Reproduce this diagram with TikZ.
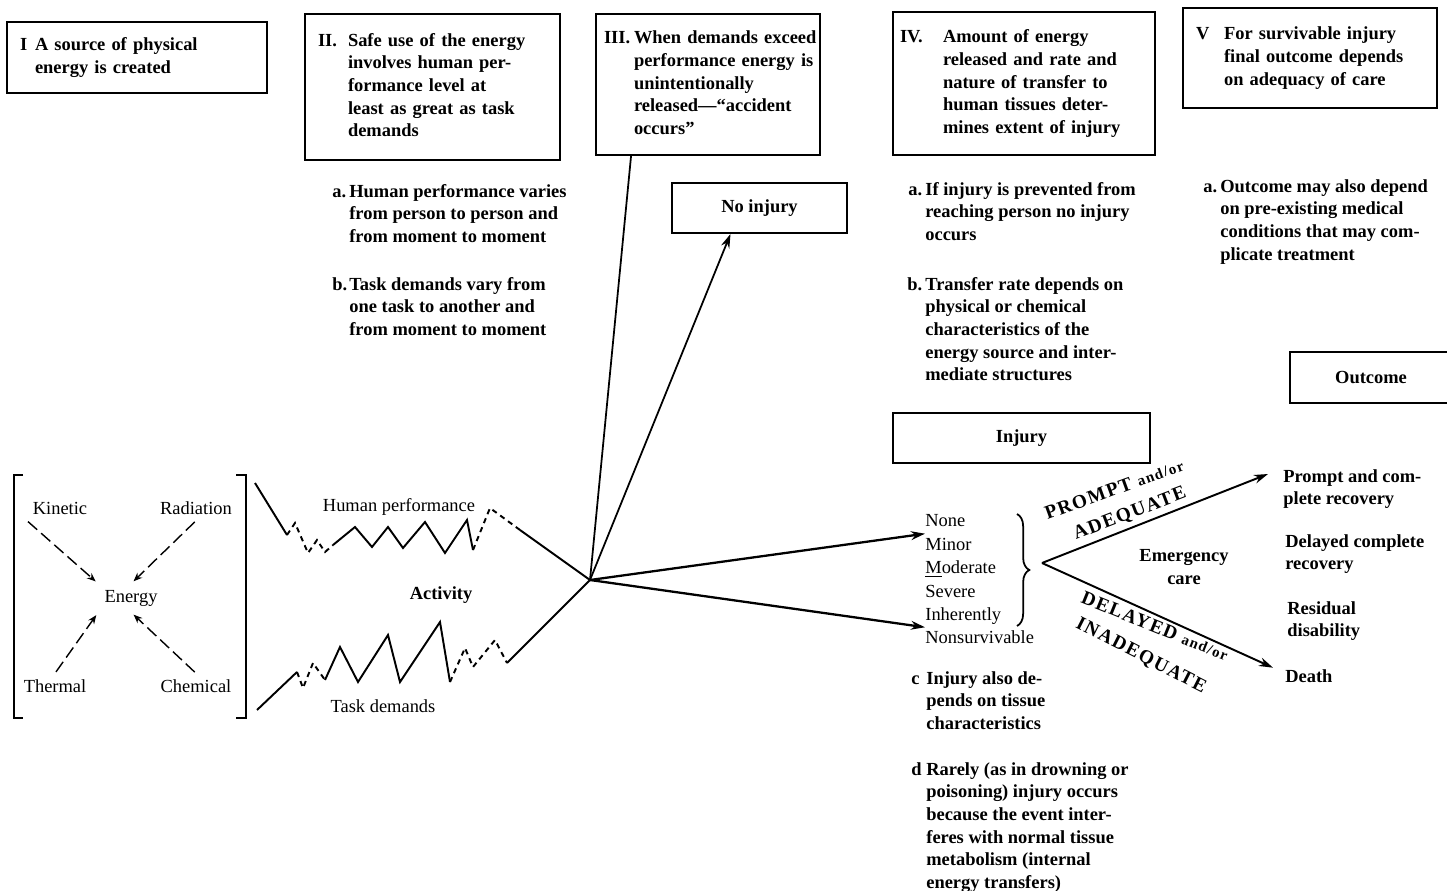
\documentclass[tikz,border=0pt]{standalone}
\usepackage{fontspec}
\setmainfont{Liberation Serif}
\usetikzlibrary{arrows.meta,positioning,calc,decorations.pathreplacing}

\begin{document}
\begin{tikzpicture}[x=0.02cm, y=-0.02cm,
  every node/.style={font=\fontsize{10.5}{12.9}\selectfont},
  stage/.style={draw, line width=1.1pt, inner xsep=0.26cm, inner ysep=0.1cm, align=left, font=\fontsize{10.5}{12.9}\selectfont\bfseries},
  tag/.style={draw, line width=1.1pt, align=center, font=\fontsize{10.5}{12.9}\selectfont\bfseries},
  note/.style={anchor=north west, inner sep=0pt, align=left, font=\fontsize{10.5}{12.9}\selectfont\bfseries},
  lvl/.style={anchor=west, inner sep=0pt, text height=7.5pt, text depth=2pt},
  caps/.style={inner sep=0pt, font=\fontsize{11}{12}\selectfont\bfseries\addfontfeature{LetterSpace=8}},
  darrow/.style={-{Stealth[length=5pt,width=4pt]}, dash pattern=on 7pt off 3pt, line width=0.8pt, shorten <=1pt, shorten >=2pt},
  flow/.style={-{Stealth[length=8pt,width=5pt]}, line width=1.3pt},
  zig/.style={line width=1.1pt, line join=miter},
  zigd/.style={line width=1.1pt, dash pattern=on 3pt off 2.5pt}]

\useasboundingbox (0,0) rectangle (1447,891);

% stages along the top
\node[stage, minimum width=5.2cm, text width=4.68cm, minimum height=1.42cm] (srcbox) at (137,57.5) {%
\begin{tabular}{@{}p{0.3cm}@{}l@{}}I & A source of physical\\ & energy is created\end{tabular}};
\node[stage, minimum width=5.1cm, text width=4.58cm, minimum height=2.92cm] (safebox) at (432.5,87) {%
\begin{tabular}{@{}p{0.6cm}@{}l@{}}II. & Safe use of the energy\\ & involves human per-\\ & formance level at\\ & least as great as task\\ & demands\end{tabular}};
\node[stage, inner xsep=0.16cm, minimum width=4.48cm, text width=4.16cm, minimum height=2.82cm] (whenbox) at (708,84.5) {%
\begin{tabular}{@{}p{0.6cm}@{}l@{}}III. & When demands exceed\\ & performance energy is\\ & unintentionally\\ & released---``accident\\ & occurs''\end{tabular}};
\node[stage, inner xsep=0.14cm, minimum width=5.24cm, text width=4.96cm, minimum height=2.86cm] (amountbox) at (1024,83.5) {%
\begin{tabular}{@{}p{0.86cm}@{}l@{}}IV. & Amount of energy\\ & released and rate and\\ & nature of transfer to\\ & human tissues deter-\\ & mines extent of injury\end{tabular}};
\node[stage, minimum width=5.08cm, text width=4.56cm, minimum height=2.0cm] (carebox) at (1310,58) {%
\begin{tabular}{@{}p{0.56cm}@{}l@{}}V & For survivable injury\\ & final outcome depends\\ & on adequacy of care\end{tabular}};

% notes under the stages
\node[note] (noteIIa) at (332,181) {\begin{tabular}{@{}p{0.34cm}@{}l@{}}a. & Human performance varies\\ & from person to person and\\ & from moment to moment\end{tabular}};
\node[note] (noteIIb) at (332,274) {\begin{tabular}{@{}p{0.34cm}@{}l@{}}b. & Task demands vary from\\ & one task to another and\\ & from moment to moment\end{tabular}};
\node[note] (noteIVa) at (908,179) {\begin{tabular}{@{}p{0.34cm}@{}l@{}}a. & If injury is prevented from\\ & reaching person no injury\\ & occurs\end{tabular}};
\node[note] (noteIVb) at (907,274) {\begin{tabular}{@{}p{0.36cm}@{}l@{}}b. & Transfer rate depends on\\ & physical or chemical\\ & characteristics of the\\ & energy source and inter-\\ & mediate structures\end{tabular}};
\node[note] (noteVa) at (1203,176) {\begin{tabular}{@{}p{0.34cm}@{}l@{}}a. & Outcome may also depend\\ & on pre-existing medical\\ & conditions that may com-\\ & plicate treatment\end{tabular}};
\node[note] (noteIVc) at (911,668) {\begin{tabular}{@{}p{0.3cm}@{}l@{}}c & Injury also de-\\ & pends on tissue\\ & characteristics\end{tabular}};
\node[note] (noteIVd) at (911,759) {\begin{tabular}{@{}p{0.3cm}@{}l@{}}d & Rarely (as in drowning or\\ & poisoning) injury occurs\\ & because the event inter-\\ & feres with normal tissue\\ & metabolism (internal\\ & energy transfers)\end{tabular}};

% result boxes
\node[tag, minimum width=3.5cm, minimum height=1.0cm] (noinj) at (759.5,208) {No injury};
\node[tag, minimum width=5.14cm, minimum height=1.0cm] (injbox) at (1021.5,438) {Injury};
\node[tag, minimum width=3.24cm, minimum height=1.02cm] (outbox) at (1371,377.5) {Outcome};

% energy forms
\draw[line width=1.2pt] (23,475) -| (14,718) -- (23,718);
\draw[line width=1.2pt] (236,475) -| (246,718) -- (236,718);
\node (kinetic) at (60,508) {Kinetic};
\node (radiation) at (196,508) {Radiation};
\node (energy) at (131,598) {Energy};
\node (thermal) at (55,686) {Thermal};
\node (chemical) at (196,686) {Chemical};
\draw[darrow] (kinetic.south west) -- (energy.north west);
\draw[darrow] (radiation.south) -- (energy.north);
\draw[darrow] (thermal.north) -- (energy.south west);
\draw[darrow] (chemical.north) -- (energy.south);

% activity
\coordinate (act) at (590,580);
\node (humperf) at (399,507) {Human performance};
\node[font=\fontsize{10.5}{12.9}\selectfont\bfseries] (activity) at (441,595) {Activity};
\node (taskdem) at (383,706) {Task demands};
\draw[zig] (255,483) -- (287,535);
\draw[zigd] (287,535) -- (295,523) -- (308,553) -- (317,540) -- (325,552) -- (333,545);
\draw[zig] (333,545) -- (355,527) -- (372,547) -- (388,527) -- (403,548) -- (425,522) -- (445,553) -- (467,520) -- (473,550);
\draw[zigd] (473,550) -- (490,508) -- (520,530);
\draw[zig] (520,530) -- (act);
\draw[zig] (257,710) -- (297,672);
\draw[zigd] (297,672) -- (303,688) -- (313,663) -- (325,680);
\draw[zig] (325,680) -- (340,647) -- (358,682) -- (388,635) -- (400,682) -- (440,622) -- (450,682);
\draw[zigd] (450,682) -- (465,648) -- (473,667) -- (495,640) -- (507,663);
\draw[zig] (507,663) -- (act);

% release of energy
\draw[line width=1pt] (act) -- ($(whenbox.south west)+(36,0)$);
\draw[flow, line width=1pt] (act) -- ($(noinj.south)+(-29,0)$);

% injury levels
\node[lvl] (none) at (925,522) {None};
\node[lvl, below=0.12cm of none.south west, anchor=north west] (minor) {Minor};
\node[lvl, below=0.12cm of minor.south west, anchor=north west] (moderate) {\underline{M}oderate};
\node[lvl, below=0.12cm of moderate.south west, anchor=north west] (severe) {Severe};
\node[lvl, below=0.12cm of severe.south west, anchor=north west] (inherent) {Inherently};
\node[lvl, below=0.12cm of inherent.south west, anchor=north west] (nonsurv) {Nonsurvivable};
\draw[flow] (act) -- ($(none.south west)!.5!(minor.north west)$);
\draw[flow] (act) -- ($(inherent.south west)!.5!(nonsurv.north west)$);
\draw[decorate, decoration={brace, amplitude=7pt}, line width=1pt] (1017,514) -- (1017,626);

% care and outcome
\coordinate (care) at (1042,563);
\node[note] (prompt) at (1283,466) {\begin{tabular}{@{}l@{}}Prompt and com-\\plete recovery\end{tabular}};
\node[note] (delayed) at (1285,531) {\begin{tabular}{@{}l@{}}Delayed complete\\recovery\end{tabular}};
\node[note] (residual) at (1287,598) {\begin{tabular}{@{}l@{}}Residual\\disability\end{tabular}};
\node[note] (death) at (1285,666) {\begin{tabular}{@{}l@{}}Death\end{tabular}};
\draw[flow, line width=1.1pt] (care) -- ($(prompt.north west)+(-15,8)$);
\draw[flow, line width=1.1pt] (care) -- ($(death.west)+(-12,-10)$);
\node[caps, rotate=20] (promptlbl) at (1114,489) {PROMPT {\fontsize{8.5}{10}\selectfont and/or}};
\node[caps, rotate=21] (adeqlbl) at (1130,514) {ADEQUATE};
\node[caps, rotate=-22] (delaylbl) at (1155,626) {DELAYED {\fontsize{8.5}{10}\selectfont and/or}};
\node[caps, rotate=-27] (inadeqlbl) at (1141,656) {INADEQUATE};
\node[align=center, font=\fontsize{10.5}{12.9}\selectfont\bfseries] (ecare) at (1184,567) {Emergency\\care};
\end{tikzpicture}
\end{document}
